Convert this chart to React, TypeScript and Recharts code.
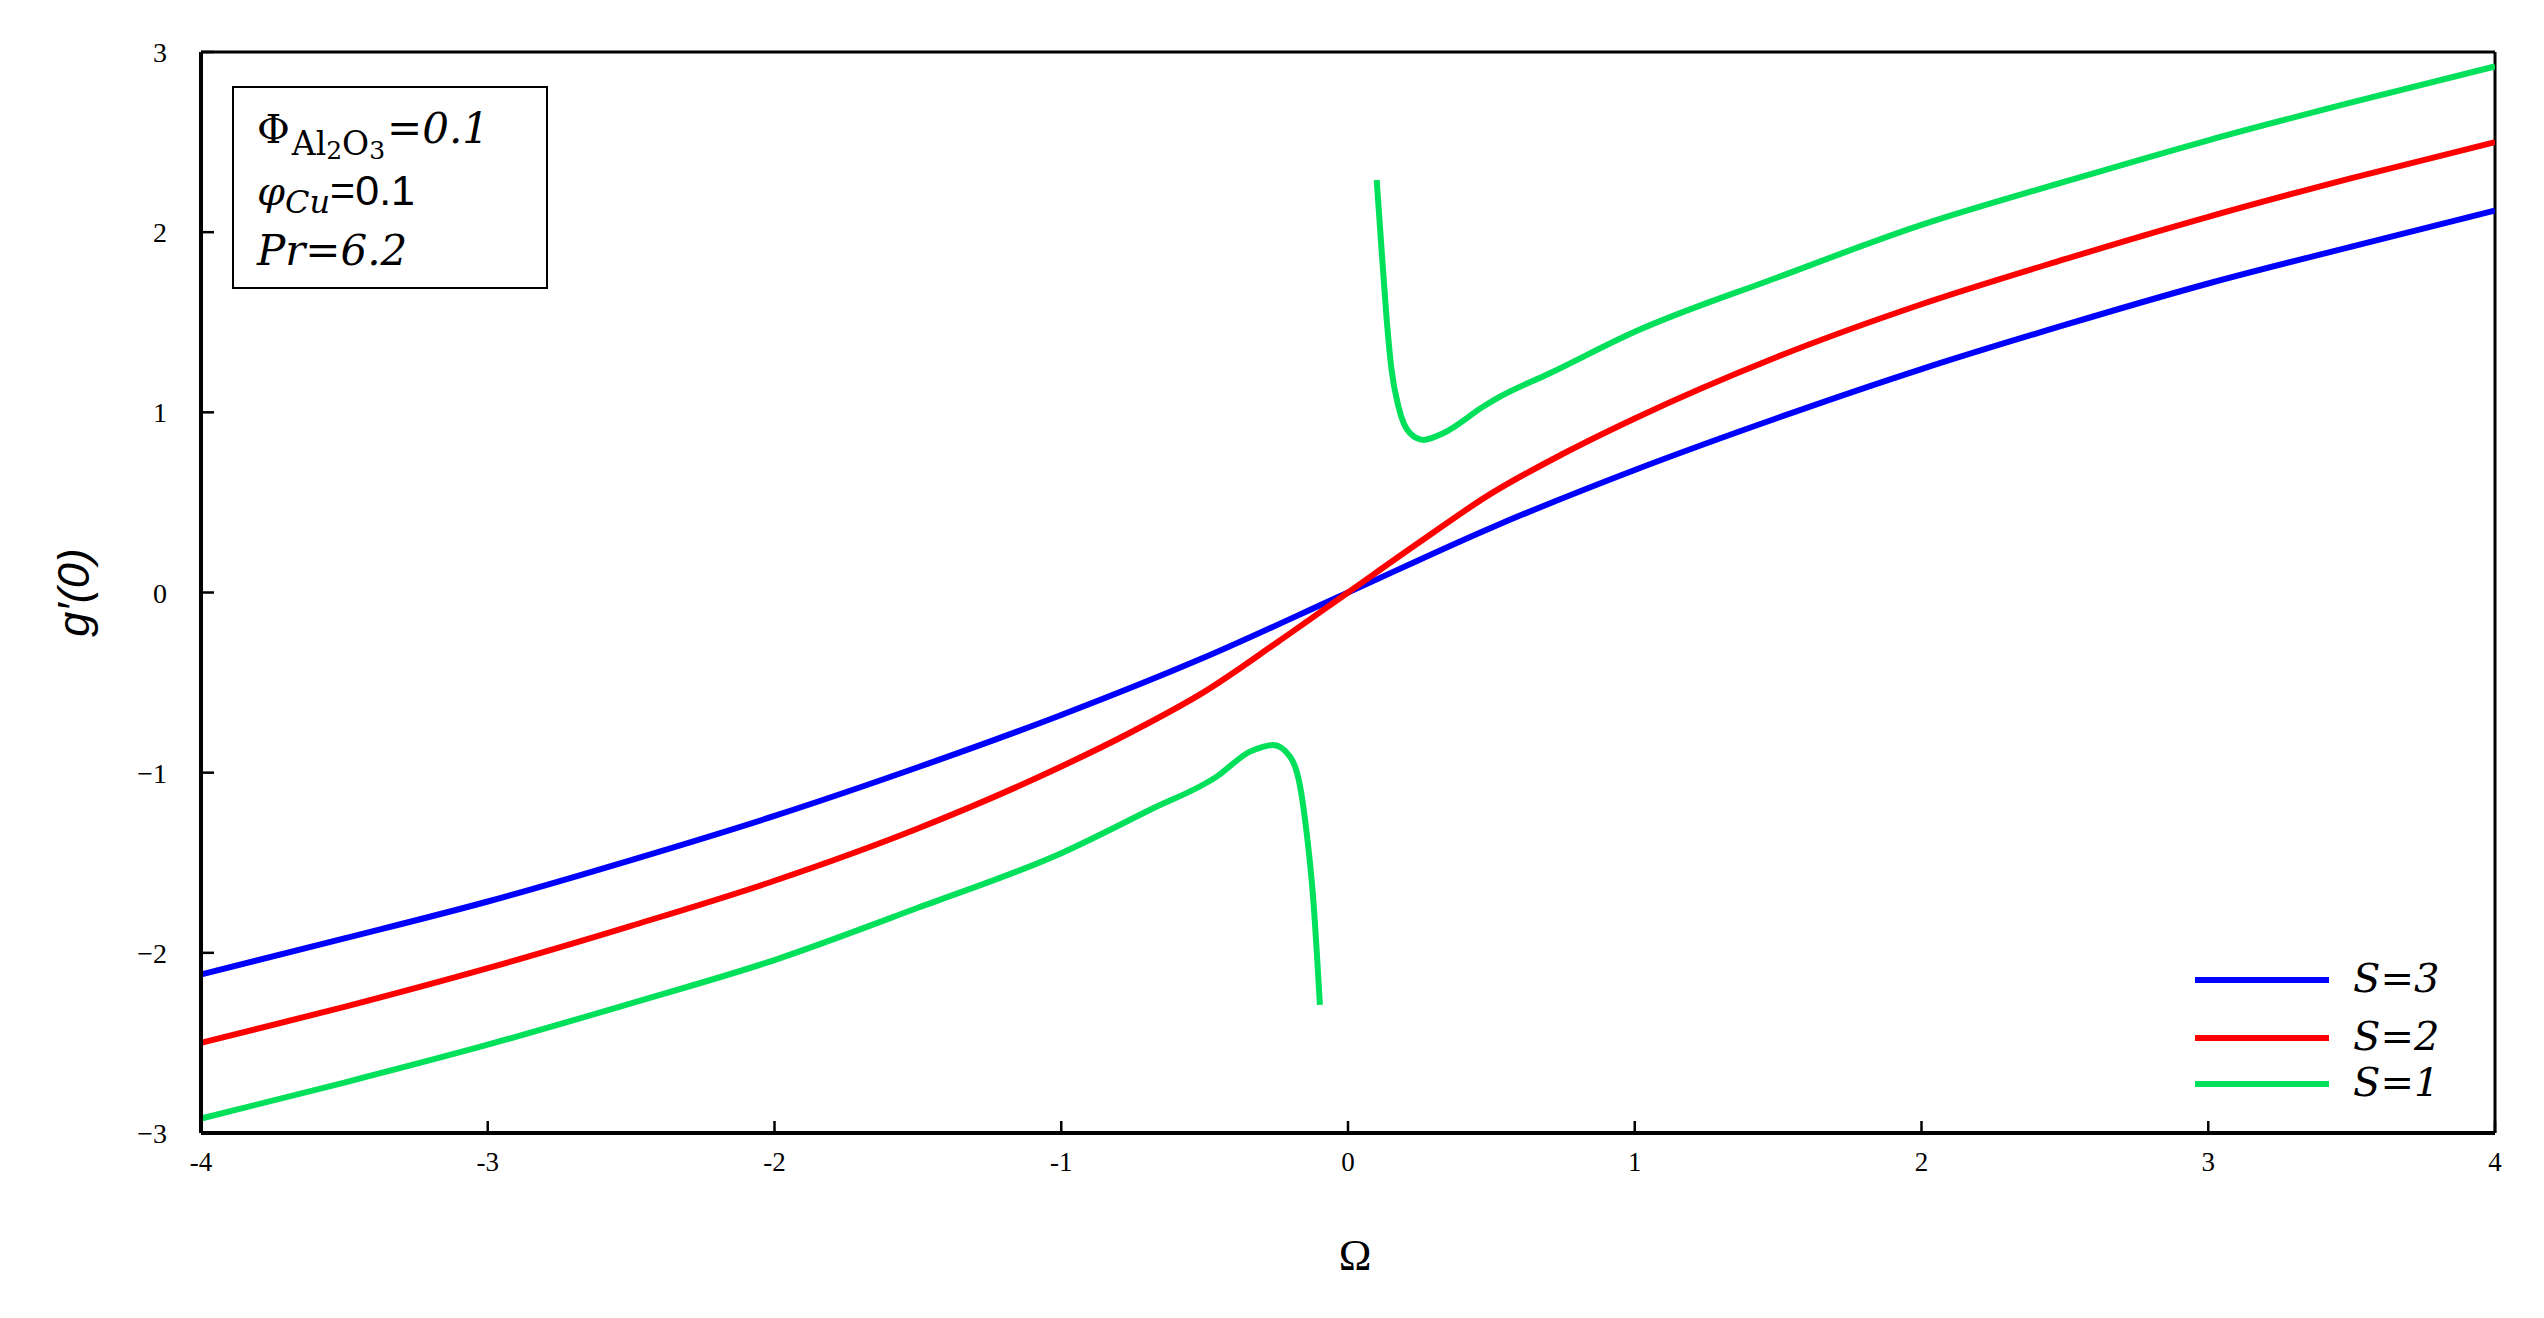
import React from 'react';
import { LineChart, Line, XAxis, YAxis, ReferenceLine, Legend } from 'recharts';

// ---- data ----
const xTicks = [-4, -3, -2, -1, 0, 1, 2, 3, 4];
const yTicks = [-3, -2, -1, 0, 1, 2, 3];

const nameS3 = 'S=3';
const nameS2 = 'S=2';
const nameS1 = 'S=1';
const legendOrder = [nameS3, nameS2, nameS1];
const colorS3 = '#0000FF';
const colorS2 = '#FF0000';
const colorS1 = '#00E05A';

const omegaS3 = [-4, -3.5, -3, -2.5, -2, -1.5, -1, -0.5, 0, 0.5, 1, 1.5, 2, 2.5, 3, 3.5, 4];
const gS3 = [-2.12, -1.92, -1.715, -1.485, -1.24, -0.97, -0.68, -0.36, 0, 0.36, 0.68, 0.97, 1.24, 1.485, 1.715, 1.92, 2.12];

const omegaS2 = [-4, -3.5, -3, -2.5, -2, -1.5, -1, -0.75, -0.5, -0.25, 0, 0.25, 0.5, 0.75, 1, 1.5, 2, 2.5, 3, 3.5, 4];
const gS2 = [-2.5, -2.3, -2.085, -1.85, -1.6, -1.31, -0.966, -0.77, -0.55, -0.28, 0, 0.28, 0.55, 0.77, 0.966, 1.31, 1.6, 1.85, 2.085, 2.3, 2.5];

const omegaS1Left = [-4, -3.5, -3, -2.5, -2, -1.5, -1, -0.69, -0.458, -0.342, -0.3, -0.261, -0.202, -0.167, -0.144, -0.121, -0.098];
const gS1Left = [-2.92, -2.72, -2.51, -2.28, -2.04, -1.75, -1.447, -1.206, -1.022, -0.883, -0.858, -0.846, -0.911, -1.077, -1.336, -1.706, -2.289];

const omegaS1Right = [0.1, 0.118, 0.135, 0.152, 0.176, 0.216, 0.263, 0.332, 0.472, 0.53, 0.704, 1, 1.5, 2, 2.5, 3, 3.5, 4];
const gS1Right = [2.29, 1.883, 1.513, 1.235, 1.032, 0.884, 0.847, 0.884, 1.032, 1.087, 1.217, 1.447, 1.75, 2.04, 2.28, 2.51, 2.72, 2.92];

const zip = (xs: number[], ys: number[]) => xs.map((x, i) => ({ x, y: ys[i] }));
const dataS3 = zip(omegaS3, gS3);
const dataS2 = zip(omegaS2, gS2);
const dataS1L = zip(omegaS1Left, gS1Left);
const dataS1R = zip(omegaS1Right, gS1Right);

const SERIF = '"Liberation Serif", "DejaVu Serif", serif';
const WIDE_SERIF = '"DejaVu Serif", "Liberation Serif", serif';
const SANS = '"Liberation Sans", "DejaVu Sans", sans-serif';

// ---- components ----
const XTick = (props: any) => {
  const { x, y, payload } = props;
  const v = payload.value;
  return (
    <g>
      <line x1={x} x2={x} y1={y} y2={y - 12} stroke="#000" strokeWidth={2.5} />
      <text x={x} y={y + 38} textAnchor="middle" fontFamily={SERIF} fontSize={27} fill="#000">
        {v < 0 ? '-' + Math.abs(v) : String(v)}
      </text>
    </g>
  );
};

const YTick = (props: any) => {
  const { x, y, payload } = props;
  const v = payload.value;
  return (
    <g>
      <line x1={x} x2={x + 13} y1={y} y2={y} stroke="#000" strokeWidth={2.5} />
      <text x={x - 34} y={y + 10} textAnchor="end" fontFamily={SERIF} fontSize={28} fill="#000">
        {v < 0 ? '\u2212' + Math.abs(v) : String(v)}
      </text>
    </g>
  );
};

const XLabel = (props: any) => {
  const vb = props.viewBox || { x: 0, y: 0, width: 0 };
  return (
    <text x={vb.x + vb.width / 2 + 7} y={vb.y + 137} textAnchor="middle" fontFamily={SERIF} fontSize={44} fill="#000">
      {'\u03A9'}
    </text>
  );
};

const YLabel = (props: any) => {
  const vb = props.viewBox || { x: 0, y: 0, height: 0 };
  const cx = vb.x + 22;
  const cy = vb.y + vb.height / 2;
  return (
    <text
      x={cx}
      y={cy}
      transform={`rotate(-90, ${cx}, ${cy})`}
      textAnchor="middle"
      dominantBaseline="central"
      fontFamily={SANS}
      fontStyle="italic"
      fontSize={45}
      fill="#000"
    >
      {'g\u2032(0)'}
    </text>
  );
};

const legendRowY = [32, 90, 136];

const LegendContent = (props: any) => {
  const items = (props.payload || [])
    .filter((p: any) => p.type !== 'none' && legendOrder.includes(p.value))
    .sort((a: any, b: any) => legendOrder.indexOf(a.value) - legendOrder.indexOf(b.value));
  return (
    <svg width={330} height={170} style={{ display: 'block' }}>
      {items.map((p: any, i: number) => (
        <g key={p.value}>
          <line x1={7} x2={141} y1={legendRowY[i]} y2={legendRowY[i]} stroke={p.color} strokeWidth={6} />
          <text x={165} y={legendRowY[i] + 12} fontFamily={WIDE_SERIF} fontStyle="italic" fontSize={40} fill="#000">
            {p.value}
          </text>
        </g>
      ))}
    </svg>
  );
};

const Annotation = () => (
  <div
    style={{
      position: 'absolute',
      left: 224,
      top: 78,
      width: 316,
      height: 203,
      border: '2px solid #000',
      boxSizing: 'border-box',
      background: '#fff',
    }}
  >
    <svg width={312} height={199} style={{ display: 'block' }}>
      <text x={23} y={55} fontFamily={WIDE_SERIF} fontSize={40} fill="#000">
        <tspan>{'\u03A6'}</tspan>
        <tspan fontSize={33} dx={2} dy={12}>Al</tspan>
        <tspan fontSize={25} dy={4}>2</tspan>
        <tspan fontSize={33} dy={-4}>O</tspan>
        <tspan fontSize={25} dy={4}>3</tspan>
        <tspan fontSize={42} dx={2} dy={-16} fontStyle="italic">=0.1</tspan>
      </text>
      <text x={23} y={117} fontFamily={WIDE_SERIF} fontSize={40} fill="#000">
        <tspan fontStyle="italic">{'\u03C6'}</tspan>
        <tspan fontStyle="italic" fontSize={32} dy={8}>Cu</tspan>
        <tspan fontFamily={SANS} fontSize={43} dy={-8}>=0.1</tspan>
      </text>
      <text x={23} y={177} fontFamily={WIDE_SERIF} fontStyle="italic" fontSize={42} fill="#000">
        Pr=6.2
      </text>
    </svg>
  </div>
);

export default function App() {
  return (
    <div style={{ position: 'relative', width: 2528, height: 1302 }}>
      <LineChart
        width={2528}
        height={1302}
        margin={{ top: 44, right: 41, bottom: 117, left: 43 }}
      >
        <XAxis
          type="number"
          dataKey="x"
          domain={[-4, 4]}
          ticks={xTicks}
          interval={0}
          allowDataOverflow
          height={60}
          tickSize={0}
          tickMargin={0}
          tickLine={false}
          axisLine={{ stroke: '#000', strokeWidth: 4 }}
          tick={<XTick />}
          label={<XLabel />}
        />
        <YAxis
          type="number"
          dataKey="y"
          domain={[-3, 3]}
          ticks={yTicks}
          interval={0}
          allowDataOverflow
          width={150}
          tickSize={0}
          tickMargin={0}
          tickLine={false}
          axisLine={{ stroke: '#000', strokeWidth: 4 }}
          tick={<YTick />}
          label={<YLabel />}
        />
        <ReferenceLine y={3} stroke="#000" strokeWidth={3} />
        <ReferenceLine x={4} stroke="#000" strokeWidth={3} />
        <Line data={dataS3} dataKey="y" name={nameS3} type="monotone" stroke={colorS3} strokeWidth={6} dot={false} isAnimationActive={false} />
        <Line data={dataS2} dataKey="y" name={nameS2} type="monotone" stroke={colorS2} strokeWidth={6} dot={false} isAnimationActive={false} />
        <Line data={dataS1L} dataKey="y" name={nameS1} type="monotone" stroke={colorS1} strokeWidth={6} dot={false} isAnimationActive={false} />
        <Line data={dataS1R} dataKey="y" name={nameS1 + ' '} legendType="none" type="monotone" stroke={colorS1} strokeWidth={6} dot={false} isAnimationActive={false} />
        <Legend
          layout="vertical"
          align="center"
          verticalAlign="middle"
          content={<LegendContent />}
          wrapperStyle={{ position: 'absolute', left: 2180, top: 940, width: 330, height: 170 }}
        />
      </LineChart>
      <Annotation />
    </div>
  );
}
